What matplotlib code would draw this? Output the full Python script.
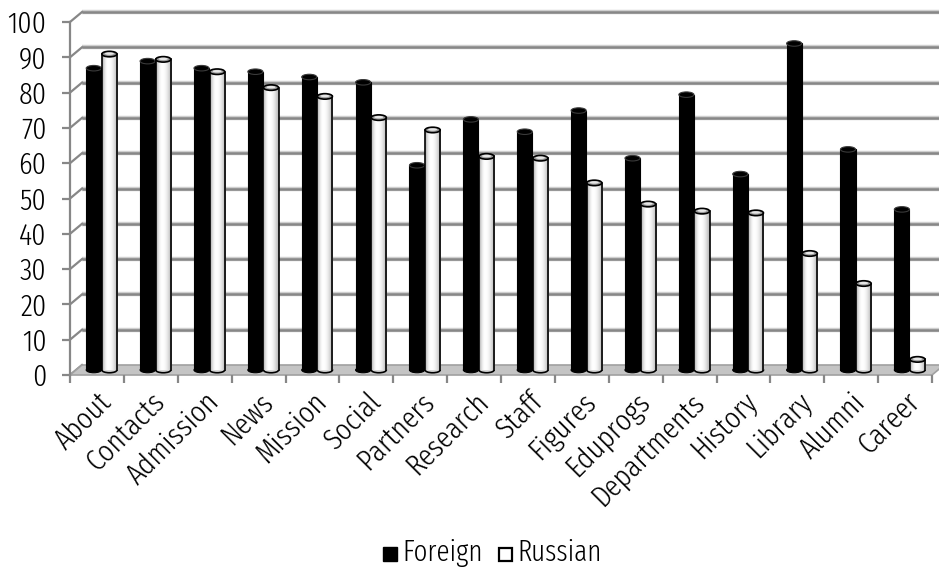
import matplotlib
matplotlib.use("Agg")
import matplotlib.pyplot as plt
import numpy as np
from matplotlib.patches import Polygon, Ellipse, Rectangle

# Section visibility (%) for university websites
categories = ["About", "Contacts", "Admission", "News", "Mission", "Social",
              "Partners", "Research", "Staff", "Figures", "Eduprogs",
              "Departments", "History", "Library", "Alumni", "Career"]
foreign = [85.5, 87.5, 85.5, 84.5, 83, 81.5, 58, 71, 67.5, 73.5,
           60, 78, 55.5, 92.5, 62.5, 45.5]
russian = [89.5, 88, 84.5, 80, 77.5, 71.5, 68, 60.5, 60, 53,
           47, 45, 44.5, 33, 24.5, 3]
series_names = ["Foreign", "Russian"]
yticks = list(range(0, 101, 10))

plt.rcParams['font.family'] = ['Fira Sans Extra Condensed', 'DejaVu Sans']
plt.rcParams['font.weight'] = 300

W, H = 939, 567
fig = plt.figure(figsize=(W / 100, H / 100), dpi=100)
# front plane of the plot box, in pixels
x0, x1, y0, y1 = 70, 932, 375, 22
ax = fig.add_axes([x0 / W, (H - y0) / H, (x1 - x0) / W, (y0 - y1) / H])
n = len(categories)

pxx = (x1 - x0) / n          # pixels per category
pxy = (y0 - y1) / 100.0      # pixels per value unit
dx, dy = 12 / pxx, 10 / pxy  # depth of the box
mx, my = dx / 2, dy / 2      # bars sit half way back

grid_col = '#878787'

# floor
ax.add_patch(Polygon([(0, 0), (n, 0), (n + dx, dy), (dx, dy)], closed=True,
                     facecolor='#c4c4c4', edgecolor='#a0a0a0', lw=1.2,
                     clip_on=False, zorder=1))

# back wall gridlines and the side wall diagonals
for v in yticks:
    if v > 0:
        ax.plot([dx, n + dx], [v + dy, v + dy], color='#cfcfcf', lw=3.2,
                clip_on=False, zorder=0.4, solid_capstyle='butt')
        ax.plot([dx, n + dx], [v + dy, v + dy], color=grid_col, lw=1.8,
                clip_on=False, zorder=0.5, solid_capstyle='butt')
    ax.plot([0, dx], [v, v + dy], color=grid_col, lw=1.6, clip_on=False, zorder=0.6)

# bars: black foreign, shaded white russian, drawn as cylinders
bw = 0.28
xs = np.arange(n) + 0.5
xb = xs - 0.17 + mx
xw = xs + 0.12 + mx
cap_h = 5.5 / pxy

grad = np.array([[0.72, 0.86, 0.96, 1.0, 1.0, 0.98, 0.94, 0.88, 0.8, 0.72]])

for i in range(n):
    for xc, val, kind in [(xb[i], foreign[i], 'f'), (xw[i], russian[i], 'r')]:
        z = 3 + i * 0.01 + (0.005 if kind == 'r' else 0)
        bottom = my
        top = val + my
        if kind == 'f':
            ax.bar([xc], [val], bottom=bottom, width=bw, color='black',
                   edgecolor='black', lw=0.8, zorder=z, clip_on=False)
            ax.add_patch(Ellipse((xc, top), bw, cap_h, facecolor='black',
                                 edgecolor='#3a3a3a', lw=0.8, zorder=z + 0.001,
                                 clip_on=False))
            ax.add_patch(Ellipse((xc, bottom), bw, cap_h, facecolor='black',
                                 edgecolor='black', lw=0.8, zorder=z - 0.001,
                                 clip_on=False))
        else:
            bars = ax.bar([xc], [val], bottom=bottom, width=bw, color='white',
                          edgecolor='none', zorder=z, clip_on=False)
            im = ax.imshow(grad, cmap='gray', vmin=0, vmax=1, aspect='auto',
                           extent=(xc - bw / 2, xc + bw / 2, bottom, top),
                           zorder=z + 0.0005, interpolation='bicubic')
            im.set_clip_path(bars[0])
            ax.add_patch(Ellipse((xc, bottom), bw, cap_h, facecolor='#d8d8d8',
                                 edgecolor='black', lw=1.2, zorder=z - 0.001,
                                 clip_on=False))
            ax.plot([xc - bw / 2, xc - bw / 2], [bottom, top], color='black',
                    lw=1.2, zorder=z + 0.0008, clip_on=False)
            ax.plot([xc + bw / 2, xc + bw / 2], [bottom, top], color='black',
                    lw=1.2, zorder=z + 0.0008, clip_on=False)
            ax.add_patch(Ellipse((xc, top), bw, cap_h, facecolor='#9a9a9a',
                                 edgecolor='black', lw=1.2, zorder=z + 0.001,
                                 clip_on=False))
            ax.add_patch(Ellipse((xc, top + cap_h * 0.08), bw * 0.6, cap_h * 0.45,
                                 facecolor='#e6e6e6', edgecolor='none',
                                 zorder=z + 0.0015, clip_on=False))

ax.set_xlim(0, n)
ax.set_ylim(0, 100)

for s in ['top', 'right', 'bottom']:
    ax.spines[s].set_visible(False)
ax.spines['left'].set_color(grid_col)
ax.spines['left'].set_linewidth(1.6)

ax.set_yticks(yticks)
ax.tick_params(axis='y', length=6, width=1.6, color=grid_col, labelsize=22, pad=11)
ax.set_xticks(np.arange(n + 1))
ax.set_xticklabels([])
ax.tick_params(axis='x', which='major', length=6, width=1.6, color=grid_col)
ax.set_xticks(xs, minor=True)
ax.set_xticklabels(categories, minor=True, rotation=45, ha='right',
                   rotation_mode='anchor', fontsize=22)
ax.tick_params(axis='x', which='minor', length=0, pad=9)

# legend at the bottom
sq = 14
fig.patches.append(Rectangle((383 / W, (H - 561) / H), sq / W, sq / H,
                             transform=fig.transFigure, facecolor='black',
                             edgecolor='black', lw=1))
fig.text(402 / W, (H - 561) / H, series_names[0], fontsize=21,
         ha='left', va='baseline')
fig.patches.append(Rectangle((499 / W, (H - 561) / H), (sq - 1) / W, (sq - 1) / H,
                             transform=fig.transFigure, facecolor='white',
                             edgecolor='black', lw=1.6))
fig.text(517 / W, (H - 561) / H, series_names[1], fontsize=21,
         ha='left', va='baseline')

fig.savefig('out.png', dpi=100)
